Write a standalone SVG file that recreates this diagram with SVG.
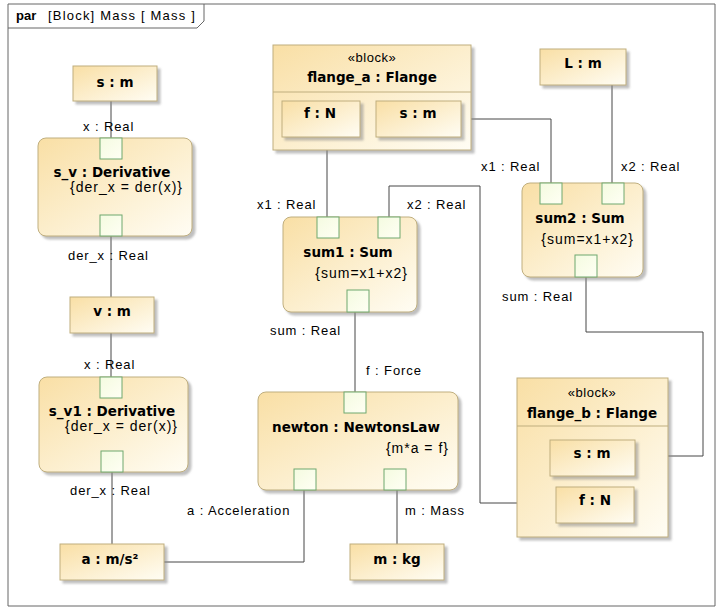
<svg xmlns="http://www.w3.org/2000/svg" width="720" height="609" viewBox="0 0 720 609">
<style>
.frame{fill:none;stroke:#666666;stroke-width:1}
.blk{fill:url(#gBlk);stroke:#bfae7e;stroke-width:1;filter:url(#sh)}
.prt{fill:url(#gPrt);stroke:#6fa86f;stroke-width:1}
.cmp{stroke:#bfae7e;stroke-width:1}
.con{fill:none;stroke:#474747;stroke-width:1}
.nm{font-family:"DejaVu Sans",sans-serif;font-weight:bold;font-size:13.5px;fill:#000;text-anchor:middle}
.cs{font-family:"Liberation Sans",Arial,sans-serif;font-size:14px;letter-spacing:1px;fill:#000;text-anchor:end}
.lb{font-family:"Liberation Sans",Arial,sans-serif;font-size:13px;letter-spacing:0.9px;fill:#000}
.st{font-family:"Liberation Sans",Arial,sans-serif;font-size:13px;letter-spacing:0.5px;fill:#000;text-anchor:middle}
</style>
<defs>
<linearGradient id="gBlk" x1="0" y1="0" x2="1" y2="1">
<stop offset="0" stop-color="#f9dfa5"/>
<stop offset="1" stop-color="#fffdf4"/>
</linearGradient>
<linearGradient id="gPrt" x1="0" y1="0" x2="1" y2="1">
<stop offset="0" stop-color="#f4fbe0"/>
<stop offset="1" stop-color="#fffff4"/>
</linearGradient>
<filter id="sh" x="-10%" y="-10%" width="130%" height="130%">
<feDropShadow dx="3" dy="3" stdDeviation="1.2" flood-color="#8a8a8a" flood-opacity="0.55"/>
</filter>
</defs>
<rect width="720" height="609" fill="#ffffff"/>
<g id="frame">
<path class="frame" d="M8,4 H715 V606 H8 Z"/>
<path class="frame" d="M8,28 H197 L204,21 V4"/>
<text x="16" y="20" font-family="Liberation Sans,Arial,sans-serif" font-size="13" font-weight="bold">par</text>
<text x="48" y="20" class="lb" style="letter-spacing:1.2px">[Block] Mass [ Mass ]</text>
</g>
<g id="connectors">
<path class="con" d="M111,101 V138"/>
<path class="con" d="M111,236 V297"/>
<path class="con" d="M111,333 V377"/>
<path class="con" d="M112,472 V544"/>
<path class="con" d="M164,562 H304 V490"/>
<path class="con" d="M397,544 V490"/>
<path class="con" d="M327,137 V217"/>
<path class="con" d="M389,217 V186 H480 V503 H556"/>
<path class="con" d="M461,119 H551 V183"/>
<path class="con" d="M612,85 V183"/>
<path class="con" d="M586,277 V332 H703 V456 H635"/>
<path class="con" d="M355,312 V392"/>
</g>
<g id="labels">
<text class="lb" x="83" y="131">x : Real</text>
<text class="lb" x="68" y="260">der_x : Real</text>
<text class="lb" x="84" y="369">x : Real</text>
<text class="lb" x="70" y="495">der_x : Real</text>
<text class="lb" x="187" y="515">a : Acceleration</text>
<text class="lb" x="257" y="209">x1 : Real</text>
<text class="lb" x="407" y="209">x2 : Real</text>
<text class="lb" x="270" y="335">sum : Real</text>
<text class="lb" x="366" y="375">f : Force</text>
<text class="lb" x="405" y="515">m : Mass</text>
<text class="lb" x="481" y="171">x1 : Real</text>
<text class="lb" x="621" y="171">x2 : Real</text>
<text class="lb" x="502" y="301">sum : Real</text>
</g>
<g id="s_m">
<rect class="blk" x="73" y="66" width="84" height="35"/>
<text class="nm" x="115" y="87">s : m</text>
</g>
<g id="s_v">
<rect class="blk" x="38" y="138" width="154" height="98" rx="8"/>
<text class="nm" x="112" y="177">s_v : Derivative</text>
<text class="cs" x="183" y="192">{der_x = der(x)}</text>
<rect class="prt" x="100" y="138" width="22" height="21"/>
<rect class="prt" x="100" y="215" width="22" height="21"/>
</g>
<g id="v_m">
<rect class="blk" x="70" y="297" width="84" height="36"/>
<text class="nm" x="112" y="316">v : m</text>
</g>
<g id="s_v1">
<rect class="blk" x="39" y="377" width="149" height="95" rx="8"/>
<text class="nm" x="112" y="416">s_v1 : Derivative</text>
<text class="cs" x="178" y="431">{der_x = der(x)}</text>
<rect class="prt" x="100" y="377" width="22" height="21"/>
<rect class="prt" x="101" y="451" width="22" height="21"/>
</g>
<g id="a_ms2">
<rect class="blk" x="60" y="544" width="104" height="36"/>
<text class="nm" x="110" y="564">a : m/s²</text>
</g>
<g id="flange_a">
<rect class="blk" x="273" y="45" width="198" height="105"/>
<line class="cmp" x1="273" y1="92" x2="471" y2="92"/>
<text class="st" x="372" y="62">«block»</text>
<text class="nm" x="372" y="82">flange_a : Flange</text>
<g id="flange_a_f">
<rect class="blk" x="282" y="101" width="78" height="36"/>
<text class="nm" x="320" y="118">f : N</text>
</g>
<g id="flange_a_s">
<rect class="blk" x="376" y="101" width="85" height="36"/>
<text class="nm" x="418" y="118">s : m</text>
</g>
</g>
<g id="L_m">
<rect class="blk" x="540" y="49" width="86" height="36"/>
<text class="nm" x="583" y="68">L : m</text>
</g>
<g id="sum1">
<rect class="blk" x="283" y="217" width="134" height="95" rx="8"/>
<text class="nm" x="348" y="257">sum1 : Sum</text>
<text class="cs" x="408" y="278">{sum=x1+x2}</text>
<rect class="prt" x="317" y="217" width="22" height="21"/>
<rect class="prt" x="378" y="217" width="22" height="21"/>
<rect class="prt" x="347" y="290" width="22" height="22"/>
</g>
<g id="sum2">
<rect class="blk" x="522" y="183" width="121" height="94" rx="8"/>
<text class="nm" x="580" y="223">sum2 : Sum</text>
<text class="cs" x="634" y="244">{sum=x1+x2}</text>
<rect class="prt" x="540" y="183" width="22" height="21"/>
<rect class="prt" x="602" y="183" width="22" height="21"/>
<rect class="prt" x="575" y="255" width="22" height="22"/>
</g>
<g id="newton">
<rect class="blk" x="258" y="392" width="200" height="98" rx="8"/>
<text class="nm" x="356" y="432">newton : NewtonsLaw</text>
<text class="cs" x="449" y="453">{m*a = f}</text>
<rect class="prt" x="344" y="392" width="22" height="21"/>
<rect class="prt" x="294" y="469" width="22" height="21"/>
<rect class="prt" x="384" y="469" width="22" height="21"/>
</g>
<g id="m_kg">
<rect class="blk" x="350" y="544" width="94" height="36"/>
<text class="nm" x="397" y="564">m : kg</text>
</g>
<g id="flange_b">
<rect class="blk" x="517" y="378" width="151" height="159"/>
<line class="cmp" x1="517" y1="426" x2="668" y2="426"/>
<text class="st" x="592" y="397">«block»</text>
<text class="nm" x="592" y="418">flange_b : Flange</text>
<g id="flange_b_s">
<rect class="blk" x="550" y="440" width="85" height="36"/>
<text class="nm" x="592" y="458">s : m</text>
</g>
<g id="flange_b_f">
<rect class="blk" x="556" y="487" width="78" height="36"/>
<text class="nm" x="595" y="505">f : N</text>
</g>
</g>
</svg>
